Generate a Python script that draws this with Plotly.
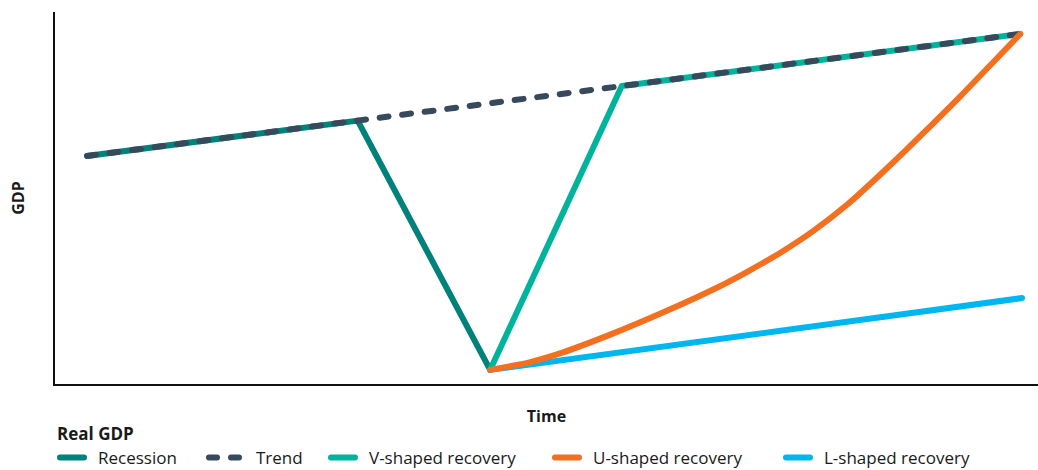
import plotly.graph_objects as go

# Data (time index 0..100, GDP index 0..100)
recession_x = [0, 29, 43.2]
recession_y = [61.3, 70.8, 3.8]

trend_x = [0, 100]
trend_y = [61.3, 94.1]

v_x = [43.2, 57.3, 100]
v_y = [3.8, 80.1, 94.1]

u_x = [43.2, 47.5, 51.0, 56.4, 61.7, 67.1, 70.7, 74.3, 77.8, 81.5, 86.4, 90.0, 93.6, 97.1, 100]
u_y = [3.8, 5.9, 8.5, 13.6, 19.2, 25.4, 30.1, 35.3, 41.1, 48.3, 59.6, 68.4, 77.4, 86.5, 94.1]

l_x = [43.2, 100.2]
l_y = [3.8, 23.1]

FONT = "Open Sans"
TXT = "#1a1a1a"

fig = go.Figure()
fig.add_trace(go.Scatter(x=recession_x, y=recession_y, mode="lines", name="Recession",
                         line=dict(color="#00827a", width=6), legend="legend"))
fig.add_trace(go.Scatter(x=v_x, y=v_y, mode="lines", name="V-shaped recovery",
                         line=dict(color="#00b49c", width=6), legend="legend3"))
fig.add_trace(go.Scatter(x=trend_x, y=trend_y, mode="lines", name="Trend",
                         line=dict(color="#38495c", width=6, dash="9px,13.7px"), legend="legend2"))
fig.add_trace(go.Scatter(x=l_x, y=l_y, mode="lines", name="L-shaped recovery",
                         line=dict(color="#00b6ee", width=6), legend="legend5"))
fig.add_trace(go.Scatter(x=u_x, y=u_y, mode="lines", name="U-shaped recovery",
                         line=dict(color="#f37021", width=6, shape="spline", smoothing=0.8),
                         legend="legend4"))

PLOT_L, PLOT_W = 55, 983
PLOT_B, PLOT_H = 384, 372

def px_x(p):
    return (p - PLOT_L) / PLOT_W

def px_y(p):
    return (PLOT_B - p) / PLOT_H

leg_common = dict(orientation="h", xanchor="left", yanchor="middle", y=px_y(458),
                  font=dict(size=17, family=FONT, color=TXT), itemwidth=36,
                  bgcolor="rgba(0,0,0,0)", borderwidth=0)
# left edge of each legend box (px)
legend_lefts = [52, 204, 323, 547, 778]
legend_itemwidths = [36, 42, 36, 36, 36]
legends = {}
for i, (s, w) in enumerate(zip(legend_lefts, legend_itemwidths)):
    key = "legend" if i == 0 else f"legend{i+1}"
    legends[key] = dict(leg_common, x=px_x(s), itemwidth=w)

fig.update_layout(
    width=1038, height=470,
    margin=dict(l=55, r=0, t=12, b=86, autoexpand=False),
    paper_bgcolor="white", plot_bgcolor="white",
    font=dict(family=FONT, size=16, color=TXT),
    showlegend=True,
    **legends,
    annotations=[dict(text="<b>Real GDP</b>", xref="paper", yref="paper",
                      x=px_x(55), y=px_y(433), xanchor="left", yanchor="middle",
                      showarrow=False, font=dict(size=17, family=FONT, color=TXT))],
    xaxis=dict(range=[-3.43, 101.9], showgrid=False, zeroline=False, showticklabels=False,
               ticks="", showline=True, linecolor="#111111", linewidth=1.5,
               title=dict(text="<b>Time</b>", standoff=26, font=dict(size=16, family=FONT, color=TXT)),
               automargin=False, fixedrange=True),
    yaxis=dict(range=[0, 100], showgrid=False, zeroline=False, showticklabels=False,
               ticks="", showline=True, linecolor="#111111", linewidth=1.5,
               title=dict(text="<b>GDP</b>", standoff=25, font=dict(size=16, family=FONT, color=TXT)),
               automargin=False, fixedrange=True),
)

post = """
document.documentElement.style.overflow='hidden';
document.body.style.margin='0';
document.body.style.overflow='hidden';
var gd=document.getElementsByClassName('plotly-graph-div')[0];
gd.style.display='block';
function rc(){
  document.querySelectorAll('.scatterlayer .js-line').forEach(function(p){p.style.strokeLinecap='round';p.style.strokeLinejoin='round';});
  ['legend','legend3','legend4','legend5'].forEach(function(c){
    document.querySelectorAll('.'+c+' .js-line').forEach(function(p){p.style.strokeLinecap='round';p.setAttribute('d','M8,0h24');});
  });
  document.querySelectorAll('.legend2 .js-line').forEach(function(p){p.style.strokeLinecap='round';p.setAttribute('d','M5,0h30');p.style.strokeDasharray='8px,14px';});
}
rc();
gd.on('plotly_afterplot', rc);
"""
fig.write_html("out.html", post_script=post, config={"displayModeBar": False})
